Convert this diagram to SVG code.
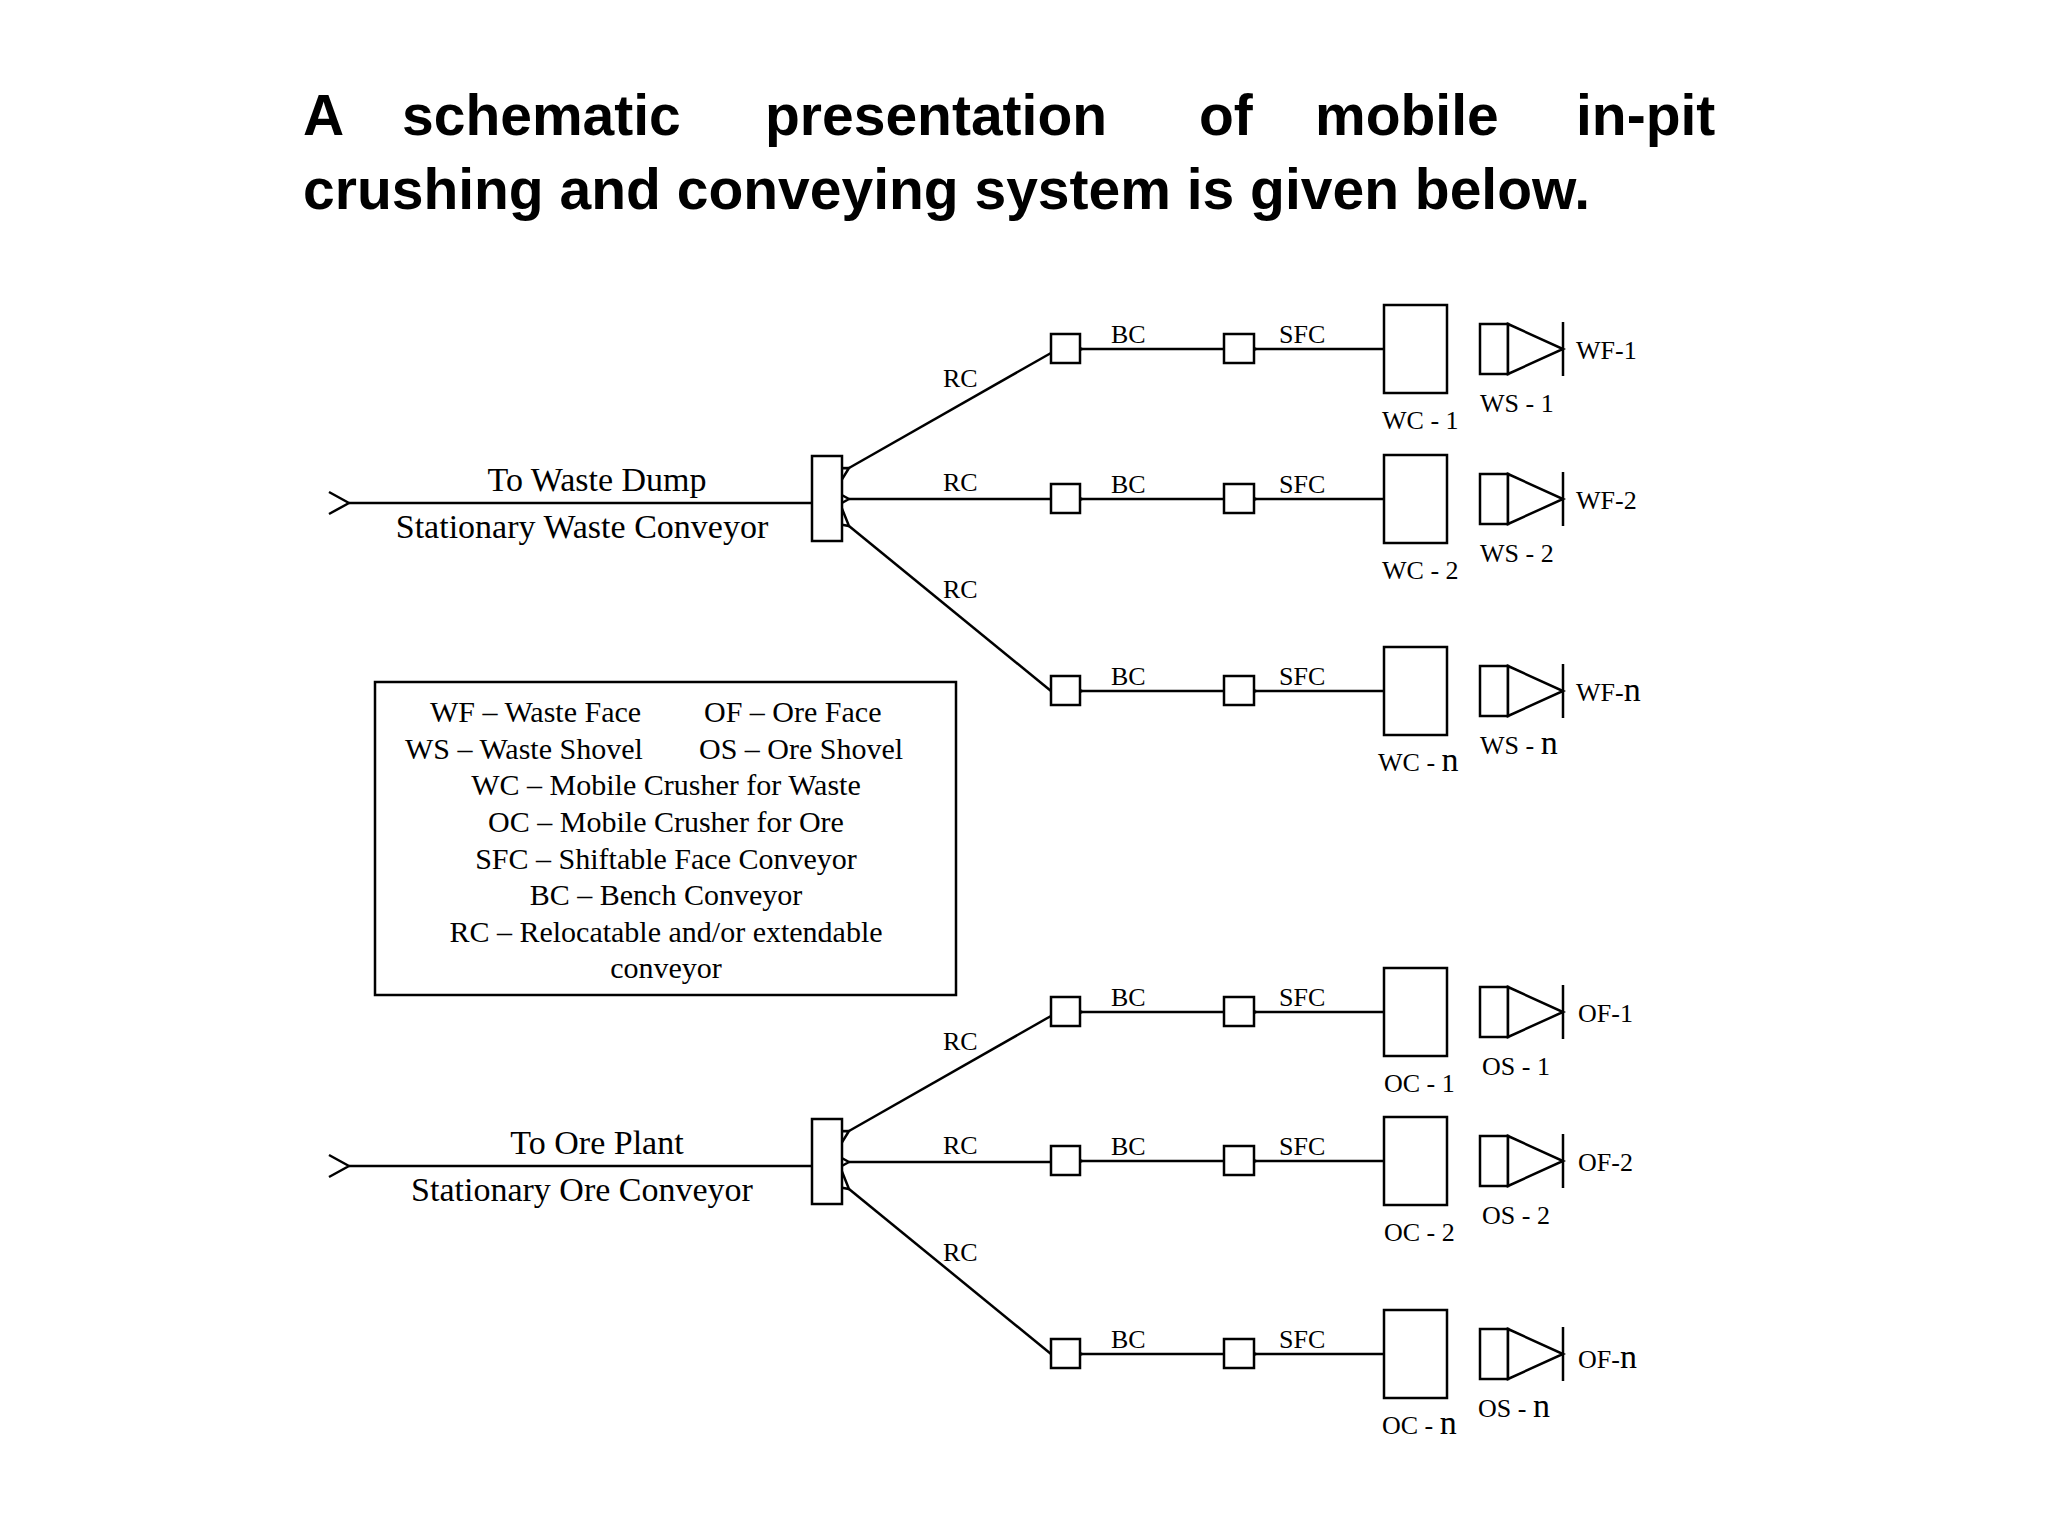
<svg xmlns="http://www.w3.org/2000/svg" width="2048" height="1536" viewBox="0 0 2048 1536">
<defs>
<style>
.s{fill:none;stroke:#000;stroke-width:2.5}
.f{fill:#fff;stroke:#000;stroke-width:2.5}
.t{font-family:"Liberation Serif",serif;fill:#000}
.l{font-size:26px}
.m{font-size:34px}
.g{font-size:30px}
.h{font-family:"Liberation Sans",Arial,sans-serif;font-weight:bold;font-size:57px}
</style>
<marker id="a" markerUnits="userSpaceOnUse" markerWidth="30" markerHeight="30" refX="2" refY="12" orient="auto" viewBox="0 0 30 24">
<path d="M22,1 L2,12 L22,23" fill="none" stroke="#000" stroke-width="2.5"/>
</marker>
</defs>
<rect width="2048" height="1536" fill="#fff"/>
<g id="title" class="h">
<text x="303" y="135">A</text><text x="402" y="135">schematic</text><text x="765" y="135">presentation</text><text x="1199" y="135">of</text><text x="1315" y="135">mobile</text><text x="1576" y="135">in-pit</text>
<text x="303" y="209">crushing and conveying system is given below.</text>
</g>
<g id="connectors">
<line class="s" x1="812" y1="503" x2="349" y2="503" marker-end="url(#a)"/>
<line class="s" x1="812" y1="1166" x2="349" y2="1166" marker-end="url(#a)"/>
<g id="rc-top">
<line class="s" x1="1051" y1="353" x2="849" y2="468" marker-end="url(#a)"/>
<line class="s" x1="1051" y1="499" x2="849" y2="499" marker-end="url(#a)"/>
<line class="s" x1="1051" y1="691" x2="849" y2="526" marker-end="url(#a)"/>
</g>
<g id="rc-bot" transform="translate(0,663)">
<line class="s" x1="1051" y1="353" x2="849" y2="468" marker-end="url(#a)"/>
<line class="s" x1="1051" y1="499" x2="849" y2="499" marker-end="url(#a)"/>
<line class="s" x1="1051" y1="691" x2="849" y2="526" marker-end="url(#a)"/>
</g>
<g transform="translate(0,349)"><line class="s" x1="1224" y1="0" x2="1082" y2="0" marker-end="url(#a)"/><line class="s" x1="1384" y1="0" x2="1256" y2="0" marker-end="url(#a)"/></g>
<g transform="translate(0,499)"><line class="s" x1="1224" y1="0" x2="1082" y2="0" marker-end="url(#a)"/><line class="s" x1="1384" y1="0" x2="1256" y2="0" marker-end="url(#a)"/></g>
<g transform="translate(0,691)"><line class="s" x1="1224" y1="0" x2="1082" y2="0" marker-end="url(#a)"/><line class="s" x1="1384" y1="0" x2="1256" y2="0" marker-end="url(#a)"/></g>
<g transform="translate(0,1012)"><line class="s" x1="1224" y1="0" x2="1082" y2="0" marker-end="url(#a)"/><line class="s" x1="1384" y1="0" x2="1256" y2="0" marker-end="url(#a)"/></g>
<g transform="translate(0,1161)"><line class="s" x1="1224" y1="0" x2="1082" y2="0" marker-end="url(#a)"/><line class="s" x1="1384" y1="0" x2="1256" y2="0" marker-end="url(#a)"/></g>
<g transform="translate(0,1354)"><line class="s" x1="1224" y1="0" x2="1082" y2="0" marker-end="url(#a)"/><line class="s" x1="1384" y1="0" x2="1256" y2="0" marker-end="url(#a)"/></g>
<g class="t l">
<text x="943" y="387">RC</text><text x="943" y="491">RC</text><text x="943" y="598">RC</text>
<text x="943" y="1050">RC</text><text x="943" y="1154">RC</text><text x="943" y="1261">RC</text>
</g>
</g>
<g id="waste-conveyor">
<rect class="f" x="812" y="456" width="30" height="85"/>
<text class="t m" x="597" y="491" text-anchor="middle">To Waste Dump</text>
<text class="t m" x="582" y="538" text-anchor="middle">Stationary Waste Conveyor</text>
</g>
<g id="ore-conveyor">
<rect class="f" x="812" y="1119" width="30" height="85"/>
<text class="t m" x="597" y="1154" text-anchor="middle">To Ore Plant</text>
<text class="t m" x="582" y="1201" text-anchor="middle">Stationary Ore Conveyor</text>
</g>
<g id="legend">
<rect class="s" x="375" y="682" width="581" height="313"/>
<g class="t g">
<text x="430" y="722">WF – Waste Face</text><text x="704" y="722">OF – Ore Face</text>
<text x="405" y="759">WS – Waste Shovel</text><text x="699" y="759">OS – Ore Shovel</text>
<text x="666" y="795" text-anchor="middle">WC – Mobile Crusher for Waste</text>
<text x="666" y="832" text-anchor="middle">OC – Mobile Crusher for Ore</text>
<text x="666" y="869" text-anchor="middle">SFC – Shiftable Face Conveyor</text>
<text x="666" y="905" text-anchor="middle">BC – Bench Conveyor</text>
<text x="666" y="942" text-anchor="middle">RC – Relocatable and/or extendable</text>
<text x="666" y="978" text-anchor="middle">conveyor</text>
</g>
</g>
<g id="row-w1" transform="translate(0,349)">
<rect class="f" x="1051" y="-15" width="29" height="29"/><rect class="f" x="1224" y="-15" width="30" height="29"/>
<rect class="f" x="1384" y="-44" width="63" height="88"/>
<rect class="f" x="1480" y="-25" width="28" height="50"/><polygon class="f" points="1508,-25 1563,0 1508,25"/><line class="s" x1="1563" y1="-27" x2="1563" y2="27"/>
<g class="t l"><text x="1111" y="-6">BC</text><text x="1279" y="-6">SFC</text><text x="1576" y="10">WF-1</text><text x="1382" y="80">WC - 1</text><text x="1480" y="63">WS - 1</text></g>
</g>
<g id="row-w2" transform="translate(0,499)">
<rect class="f" x="1051" y="-15" width="29" height="29"/><rect class="f" x="1224" y="-15" width="30" height="29"/>
<rect class="f" x="1384" y="-44" width="63" height="88"/>
<rect class="f" x="1480" y="-25" width="28" height="50"/><polygon class="f" points="1508,-25 1563,0 1508,25"/><line class="s" x1="1563" y1="-27" x2="1563" y2="27"/>
<g class="t l"><text x="1111" y="-6">BC</text><text x="1279" y="-6">SFC</text><text x="1576" y="10">WF-2</text><text x="1382" y="80">WC - 2</text><text x="1480" y="63">WS - 2</text></g>
</g>
<g id="row-wn" transform="translate(0,691)">
<rect class="f" x="1051" y="-15" width="29" height="29"/><rect class="f" x="1224" y="-15" width="30" height="29"/>
<rect class="f" x="1384" y="-44" width="63" height="88"/>
<rect class="f" x="1480" y="-25" width="28" height="50"/><polygon class="f" points="1508,-25 1563,0 1508,25"/><line class="s" x1="1563" y1="-27" x2="1563" y2="27"/>
<g class="t l"><text x="1111" y="-6">BC</text><text x="1279" y="-6">SFC</text><text x="1576" y="10">WF-<tspan class="m">n</tspan></text><text x="1378" y="80">WC - <tspan class="m">n</tspan></text><text x="1480" y="63">WS - <tspan class="m">n</tspan></text></g>
</g>
<g id="row-o1" transform="translate(0,1012)">
<rect class="f" x="1051" y="-15" width="29" height="29"/><rect class="f" x="1224" y="-15" width="30" height="29"/>
<rect class="f" x="1384" y="-44" width="63" height="88"/>
<rect class="f" x="1480" y="-25" width="28" height="50"/><polygon class="f" points="1508,-25 1563,0 1508,25"/><line class="s" x1="1563" y1="-27" x2="1563" y2="27"/>
<g class="t l"><text x="1111" y="-6">BC</text><text x="1279" y="-6">SFC</text><text x="1578" y="10">OF-1</text><text x="1384" y="80">OC - 1</text><text x="1482" y="63">OS - 1</text></g>
</g>
<g id="row-o2" transform="translate(0,1161)">
<rect class="f" x="1051" y="-15" width="29" height="29"/><rect class="f" x="1224" y="-15" width="30" height="29"/>
<rect class="f" x="1384" y="-44" width="63" height="88"/>
<rect class="f" x="1480" y="-25" width="28" height="50"/><polygon class="f" points="1508,-25 1563,0 1508,25"/><line class="s" x1="1563" y1="-27" x2="1563" y2="27"/>
<g class="t l"><text x="1111" y="-6">BC</text><text x="1279" y="-6">SFC</text><text x="1578" y="10">OF-2</text><text x="1384" y="80">OC - 2</text><text x="1482" y="63">OS - 2</text></g>
</g>
<g id="row-on" transform="translate(0,1354)">
<rect class="f" x="1051" y="-15" width="29" height="29"/><rect class="f" x="1224" y="-15" width="30" height="29"/>
<rect class="f" x="1384" y="-44" width="63" height="88"/>
<rect class="f" x="1480" y="-25" width="28" height="50"/><polygon class="f" points="1508,-25 1563,0 1508,25"/><line class="s" x1="1563" y1="-27" x2="1563" y2="27"/>
<g class="t l"><text x="1111" y="-6">BC</text><text x="1279" y="-6">SFC</text><text x="1578" y="14">OF-<tspan class="m">n</tspan></text><text x="1382" y="80">OC - <tspan class="m">n</tspan></text><text x="1478" y="63">OS - <tspan class="m">n</tspan></text></g>
</g>
</svg>
